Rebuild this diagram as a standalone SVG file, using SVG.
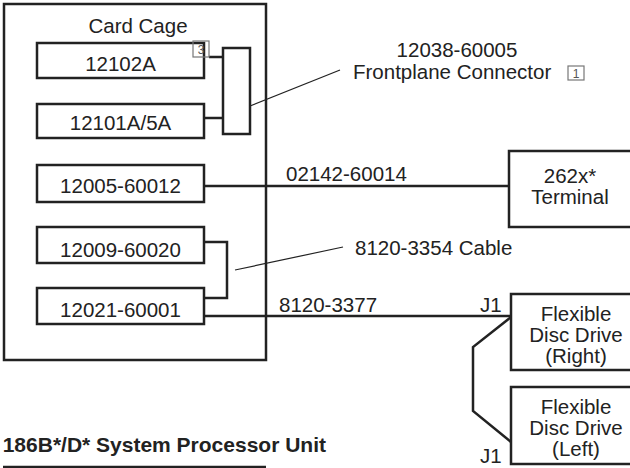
<svg xmlns="http://www.w3.org/2000/svg" width="630" height="468" viewBox="0 0 630 468">
<style>
.box{fill:#fff;stroke:#222;stroke-width:2.5}
.wire{fill:none;stroke:#222;stroke-width:2.5}
.lead{fill:none;stroke:#222;stroke-width:1.2}
text{font-family:"Liberation Sans",Arial,sans-serif;font-size:20.5px;fill:#222}
.c{text-anchor:middle}
.note{fill:none;stroke:#777;stroke-width:1.2}
.nt{font-size:12px;fill:#555;text-anchor:middle}
.title{font-weight:bold;font-size:21px;text-anchor:end}
</style>
<rect width="630" height="468" fill="#fff"/>
<g id="card-cage">
<rect class="box" x="4" y="4" width="262" height="356"/>
<text class="c" x="138" y="33">Card Cage</text>
</g>
<g id="connectors">
<polyline class="wire" points="209,57 223,57"/>
<polyline class="wire" points="204,118 223,118"/>
<polyline class="wire" points="204,186 509,186"/>
<polyline class="wire" points="204,242 227,242 227,298 204,298"/>
<polyline class="wire" points="204,316 511,316"/>
<polyline class="wire" points="511,317 473,347 473,411 511,442"/>
<line class="lead" x1="235" y1="112" x2="340" y2="70"/>
<line class="lead" x1="235" y1="270" x2="343" y2="247"/>
</g>
<g id="n12102A">
<rect class="box" x="37" y="43" width="167" height="35"/>
<text class="c" x="120.5" y="71">12102A</text>
</g>
<g id="note3">
<rect class="note" x="193" y="41" width="16" height="16"/>
<text class="nt" x="201" y="54">3</text>
</g>
<g id="n12101A">
<rect class="box" x="37" y="104" width="167" height="34"/>
<text class="c" x="120.5" y="130">12101A/5A</text>
</g>
<g id="frontplane">
<rect class="box" x="223" y="48" width="27" height="86"/>
</g>
<g id="frontplane-label">
<text class="c" x="457" y="57">12038-60005</text>
<text x="353" y="79">Frontplane Connector</text>
<rect class="note" x="568" y="66" width="16" height="14"/>
<text class="nt" x="576" y="78">1</text>
</g>
<g id="n12005">
<rect class="box" x="37" y="165" width="167" height="37"/>
<text class="c" x="120.5" y="193">12005-60012</text>
</g>
<g id="n12009">
<rect class="box" x="37" y="227" width="167" height="36"/>
<text class="c" x="120.5" y="257">12009-60020</text>
</g>
<g id="n12021">
<rect class="box" x="37" y="288" width="167" height="36"/>
<text class="c" x="120.5" y="317">12021-60001</text>
</g>
<g id="labels">
<text x="286" y="181">02142-60014</text>
<text x="355" y="255">8120-3354 Cable</text>
<text x="279" y="312">8120-3377</text>
<text x="480" y="312">J1</text>
<text x="480" y="463">J1</text>
</g>
<g id="terminal">
<rect class="box" x="509" y="151" width="140" height="76"/>
<text class="c" x="570" y="183">262x*<tspan x="570" dy="21">Terminal</tspan></text>
</g>
<g id="disc-right">
<rect class="box" x="511" y="294" width="140" height="76"/>
<text class="c" x="576" y="321">Flexible<tspan x="576" dy="21">Disc Drive</tspan><tspan x="576" dy="21">(Right)</tspan></text>
</g>
<g id="disc-left">
<rect class="box" x="511" y="387" width="140" height="77"/>
<text class="c" x="576" y="414">Flexible<tspan x="576" dy="21">Disc Drive</tspan><tspan x="576" dy="21">(Left)</tspan></text>
</g>
<g id="title">
<text class="title" x="326" y="452">186B*/D* System Processor Unit</text>
<line x1="3" y1="467" x2="266" y2="467" stroke="#222" stroke-width="2.5"/>
</g>
</svg>
